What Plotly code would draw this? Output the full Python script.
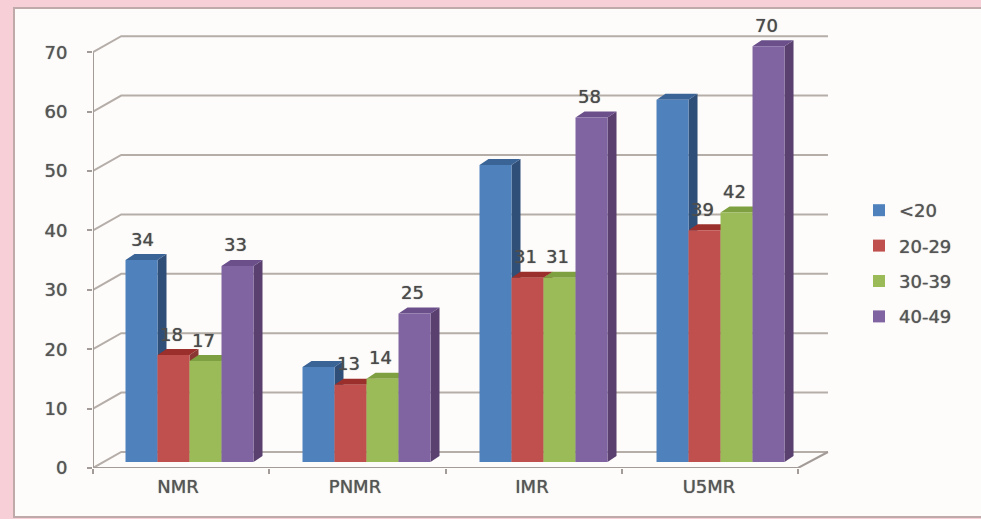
import plotly.graph_objects as go

categories = ["NMR", "PNMR", "IMR", "U5MR"]
series_names = ["<20", "20-29", "30-39", "40-49"]
under_20 = [34, 16, 50, 61]
age_20_29 = [18, 13, 31, 39]
age_30_39 = [17, 14, 31, 42]
age_40_49 = [33, 25, 58, 70]
y_ticks = [0, 10, 20, 30, 40, 50, 60, 70]
shown_labels = [[34, None, None, None], [18, 13, 31, 39], [17, 14, 31, 42], [33, 25, 58, 70]]

series_values = [under_20, age_20_29, age_30_39, age_40_49]
front = ["#4F81BD", "#C0504D", "#9BBB59", "#8064A2"]
side = ["#2F4F78", "#8A3633", "#6E8A3A", "#59406F"]
top = ["#3B6496", "#9A2F2B", "#7FA040", "#6A4F8A"]

L, R, T, B = 93, 830, 30, 468
X_UNIT = 176.25
Y_UNIT = 5.94
x_max = (R - L) / X_UNIT
y_max = (B - T) / Y_UNIT
STEP = 1.0043
CENTER0 = 0.5475
BAR_W = 32 / X_UNIT
BASE = 6 / Y_UNIT
BAR_DX = 9 / X_UNIT
BAR_DY = 6 / Y_UNIT
WALL_DX = 0.16
WALL_DY = 16 / Y_UNIT
LINE = "#B5ADA8"
TXT = "#555555"
FONT = "DejaVu Sans"
SHADOW = "0 0 1px #666666"

fig = go.Figure()

# walls
gx, gy = [], []
for v in y_ticks:
    gx += [0, WALL_DX, 4.17, None]
    gy += [v, v + WALL_DY, v + WALL_DY, None]
fig.add_trace(go.Scatter(x=gx, y=gy, mode="lines", line=dict(color=LINE, width=2),
                         showlegend=False, hoverinfo="skip"))
fig.add_trace(go.Scatter(x=[0, 0, None, 0, 4, 4.17], y=[0, 70, None, 0, 0, WALL_DY], mode="lines",
                         line=dict(color="#A39B97", width=2), showlegend=False, hoverinfo="skip"))

# bar depth faces
for j, vals in enumerate(series_values):
    sx, sy, tx, ty = [], [], [], []
    for i, v in enumerate(vals):
        x0 = CENTER0 + i * STEP + (j - 2) * BAR_W
        x1 = x0 + BAR_W
        sx += [x1, x1 + BAR_DX, x1 + BAR_DX, x1, x1, None]
        sy += [BASE, BASE + BAR_DY, BASE + v + BAR_DY, BASE + v, BASE, None]
        tx += [x0, x1, x1 + BAR_DX, x0 + BAR_DX, x0, None]
        ty += [BASE + v, BASE + v, BASE + v + BAR_DY, BASE + v + BAR_DY, BASE + v, None]
    fig.add_trace(go.Scatter(x=sx, y=sy, mode="lines", fill="toself", fillcolor=side[j],
                             line=dict(width=0, color=side[j]), showlegend=False, hoverinfo="skip"))
    fig.add_trace(go.Scatter(x=tx, y=ty, mode="lines", fill="toself", fillcolor=top[j],
                             line=dict(width=0, color=top[j]), showlegend=False, hoverinfo="skip"))

# front faces
group_x = [CENTER0 + i * STEP for i in range(len(categories))]
for j, vals in enumerate(series_values):
    fig.add_trace(go.Bar(x=group_x, y=vals, name=series_names[j], marker=dict(color=front[j], line=dict(width=0)),
                         xaxis="x2", yaxis="y2", legendgroup=series_names[j]))

annotations = []
for j, vals in enumerate(series_values):
    for i, v in enumerate(vals):
        if shown_labels[j][i] is None:
            continue
        annotations.append(dict(x=CENTER0 + i * STEP + (j - 1.5) * BAR_W, y=v, xref="x2", yref="y2",
                                text=str(v), showarrow=False, yshift=21, xshift=1 if v == 34 else -2,
                                font=dict(family=FONT, size=18, color="#4A4A4A", shadow=SHADOW)))

fig.update_layout(
    width=981, height=519, margin=dict(l=L, r=981 - R, t=T, b=519 - B),
    paper_bgcolor="#F6CFD7", plot_bgcolor="rgba(0,0,0,0)",
    barmode="group", bargap=1 - 4 * BAR_W / STEP, bargroupgap=0,
    showlegend=True,
    legend=dict(x=(859 - L) / (R - L), y=(B - 192) / (B - T), xanchor="left", yanchor="top",
                bgcolor="rgba(0,0,0,0)", tracegroupgap=9, itemwidth=30,
                font=dict(family=FONT, size=18, color=TXT, shadow=SHADOW)),
    annotations=annotations,
    shapes=[dict(type="rect", xref="paper", yref="paper", layer="below",
                 x0=(14 - L) / (R - L), x1=(990 - L) / (R - L),
                 y0=(B - 517) / (B - T), y1=(B - 8) / (B - T),
                 fillcolor="#FEFCFB", line=dict(color="#BFA9A9", width=2))],
    xaxis=dict(range=[0, x_max], showgrid=False, zeroline=False, showline=False,
               tickmode="array", tickvals=[0.482 + i * STEP for i in range(4)], ticktext=categories,
               ticks="", ticklabelstandoff=6, tickfont=dict(family=FONT, size=18, color=TXT, shadow=SHADOW),
               minor=dict(tickmode="array", tickvals=[0, 1, 2, 3, 4], ticks="outside", ticklen=5,
                          tickcolor="#A39B97", tickwidth=2, showgrid=False)),
    yaxis=dict(range=[0, y_max], showgrid=False, zeroline=False, showline=False,
               tickmode="array", tickvals=y_ticks, ticks="outside", ticklen=5, tickcolor="#A39B97", tickwidth=2,
               ticklabelstandoff=16, tickfont=dict(family=FONT, size=18, color=TXT, shadow=SHADOW)),
    xaxis2=dict(range=[0, x_max], overlaying="x", visible=False),
    yaxis2=dict(range=[-BASE, y_max - BASE], overlaying="y", visible=False),
)

fig.write_html("out.html", config=dict(displayModeBar=False), post_script="document.body.style.margin='0';document.body.style.overflow='hidden';")
